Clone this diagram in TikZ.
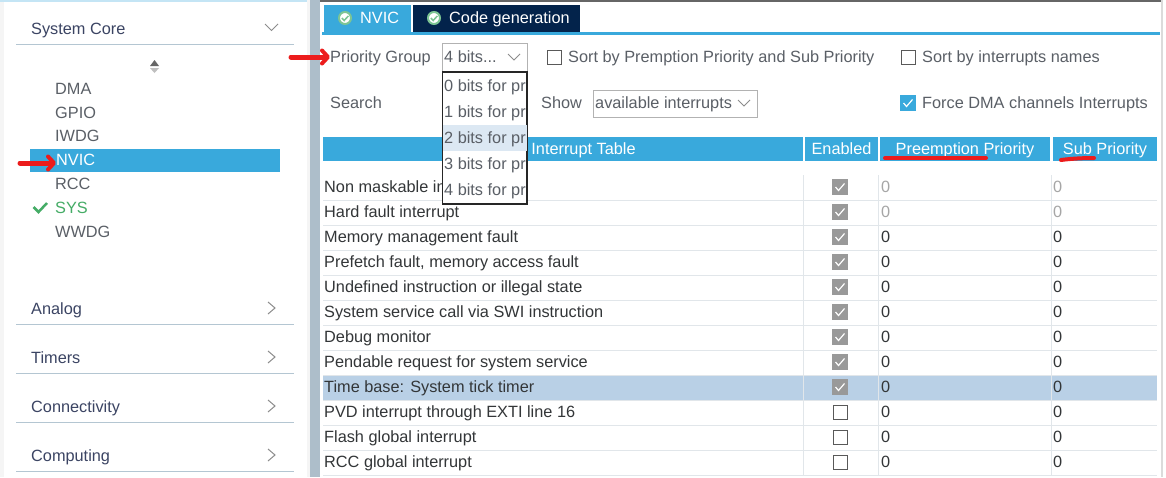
\documentclass[tikz,border=0pt]{standalone}
\usepackage{fontspec}
\setmainfont{Liberation Sans}
\usetikzlibrary{arrows.meta}
\definecolor{cubeblue}{HTML}{39A9DC}
\definecolor{cubenavy}{HTML}{03234B}
\definecolor{headtext}{HTML}{3B4463}
\definecolor{itemtext}{HTML}{5A5F66}
\definecolor{rowtext}{HTML}{333638}
\definecolor{sepline}{HTML}{E1E6EA}
\definecolor{sideline}{HTML}{B4C6D2}
\definecolor{barblue}{HTML}{B9D0E6}
\definecolor{okgreen}{HTML}{45AC66}
\definecolor{penred}{HTML}{EC1C1C}
\tikzset{
  txt/.style={anchor=west, inner sep=0pt, font=\fontsize{16.3}{18}\selectfont, text height=12.5pt, text depth=2pt},
  headtxt/.style={txt, text=headtext},
  itemtxt/.style={txt, text=itemtext},
  rowtxt/.style={txt, text=rowtext},
  greytxt/.style={txt, text=black!35},
  celltxt/.style={anchor=center, inner sep=0pt, font=\fontsize{16.3}{18}\selectfont, text height=12.5pt, text depth=2pt, text=white, fill=cubeblue, minimum height=24pt},
  chevron/.style={draw=black!45, line width=1pt, fill=none},
  emptybox/.style={draw=black!65, fill=white, line width=1pt, minimum size=14pt, inner sep=0pt},
  tickbox/.style={fill=#1, minimum size=15.5pt, inner sep=0pt, path picture={
    \draw[white, line width=1.2pt] ([shift={(-4.5,0)}]path picture bounding box.center) -- ++(3,3.5) -- ++(6,-7);}},
  tabicon/.style={circle, fill=white, draw=#1, line width=2pt, minimum size=12pt, inner sep=0pt, path picture={
    \draw[#1, line width=1.5pt] ([shift={(-3.2,0)}]path picture bounding box.center) -- ++(2.4,2.5) -- ++(4.2,-4.6);}},
  redarrow/.style={draw=penred, line width=5pt, line cap=round, -{Straight Barb[length=6pt,width=13pt,line width=4pt,round]}},
  redline/.style={draw=penred, line width=4pt, line cap=round},
}
\begin{document}
\begin{tikzpicture}[x=1pt,y=-1pt]
\useasboundingbox (0,0) rectangle (1166,477);
\fill[white] (0,0) rectangle (1166,477);
% panels
\fill[black!4] (0,0) rectangle (4,477);
\fill[black!4] (307,0) rectangle (310,477);
\fill[cubeblue!30] (0,0) rectangle (307,1.5);
\fill[black!4!sideline] (310,0) rectangle (320,477);
\fill[black!60] (320,0) rectangle (1161,1.5);
\fill[black!14] (1160.5,0) rectangle (1163,477);
% left list
\node[headtxt] (core) at (31,29) {System Core};
\node[headtxt] (analog) at (31,309) {Analog};
\node[headtxt] (timers) at (31,358) {Timers};
\node[headtxt] (connect) at (31,407) {Connectivity};
\node[headtxt] (compute) at (31,456) {Computing};
\draw[sideline] (16,44) -- (294,44);
\draw[sideline] (16,324) -- (294,324);
\draw[sideline] (16,373) -- (294,373);
\draw[sideline] (16,422) -- (294,422);
\draw[sideline] (16,471) -- (294,471);
\draw[chevron] (265,24) -- (271.5,30.5) -- (278,24);
\draw[chevron] (268,302) -- (275,308) -- (268,314);
\draw[chevron] (268,351) -- (275,357) -- (268,363);
\draw[chevron] (268,400) -- (275,406) -- (268,412);
\draw[chevron] (268,449) -- (275,455) -- (268,461);
\fill[black!60] (150,66) -- (154.5,60) -- (159,66) -- cycle;
\fill[black!25] (150,68) -- (154.5,73) -- (159,68) -- cycle;
\fill[cubeblue] (30,149) rectangle (280,172);
\node[itemtxt] (dma) at (55,89) {DMA};
\node[itemtxt] (gpio) at (55,113) {GPIO};
\node[itemtxt] (iwdg) at (55,136) {IWDG};
\node[txt, text=white] (nvic) at (56,160) {NVIC};
\node[itemtxt] (rcc) at (55,184) {RCC};
\node[txt, text=okgreen] (sys) at (55,208) {SYS};
\node[itemtxt] (wwdg) at (55,232) {WWDG};
\draw[okgreen, line width=2.5pt] (33.5,207) -- (38.5,212) -- (47,203);
% tabs
\fill[cubeblue] (322,31.5) rectangle (1160,35);
\fill[cubeblue] (324,5) rectangle (411,32);
\fill[cubenavy] (413,5) rectangle (580,32);
\node[tabicon=okgreen!70!white] (nvicicon) at (345,18) {};
\node[txt, text=white] (nvictab) at (360,18) {NVIC};
\node[tabicon=okgreen!70!white] (codeicon) at (434,18) {};
\node[txt, text=white] (codetab) at (449,18) {Code generation};
% controls
\node[itemtxt] (group) at (330,57) {Priority Group};
\node[itemtxt] (search) at (330,103) {Search};
\node[itemtxt] (show) at (541,103) {Show};
\draw[black!30, line width=1pt] (442,43.5) rectangle (527,71);
\node[itemtxt] (bits) at (444,57) {4 bits...};
\draw[chevron] (508,54) -- (514,60) -- (520,54);
\draw[black!30, line width=1pt] (593,90) rectangle (757,117);
\node[itemtxt] (avail) at (595,103) {available interrupts};
\draw[chevron] (738,100) -- (744,106) -- (750,100);
\node[emptybox] (sortbox) at (554,57) {};
\node[itemtxt] (sortprio) at (568,57) {Sort by Premption Priority and Sub Priority};
\node[emptybox] (namebox) at (908,57) {};
\node[itemtxt] (sortname) at (922,57) {Sort by interrupts names};
\node[tickbox=cubeblue] (forcebox) at (908,103) {};
\node[itemtxt] (force) at (922,103) {Force DMA channels Interrupts};
% table head
\node[celltxt, minimum width=480pt] (headint) at (563,149) {\hspace{41pt}Interrupt Table};
\node[celltxt, minimum width=73pt] (headen) at (841.5,149) {Enabled};
\node[celltxt, minimum width=170pt] (headpre) at (965,149) {Preemption Priority};
\node[celltxt, minimum width=104pt] (headsub) at (1105,149) {Sub Priority};
% table rows
\fill[barblue] (323,375) rectangle (1157,399.5);
\draw[sepline] (323,200) -- (1157,200);
\draw[sepline] (323,225) -- (1157,225);
\draw[sepline] (323,250) -- (1157,250);
\draw[sepline] (323,275) -- (1157,275);
\draw[sepline] (323,300) -- (1157,300);
\draw[sepline] (323,325) -- (1157,325);
\draw[sepline] (323,350) -- (1157,350);
\draw[sepline] (323,375) -- (1157,375);
\draw[sepline] (323,400) -- (1157,400);
\draw[sepline] (323,425) -- (1157,425);
\draw[sepline] (323,450) -- (1157,450);
\draw[sepline] (323,475) -- (1157,475);
\draw[sepline] (803.5,175) -- (803.5,475);
\draw[sepline] (878.5,175) -- (878.5,475);
\draw[sepline] (1051,175) -- (1051,475);
\node[rowtxt] (rowa) at (324,187) {Non maskable in};
\node[rowtxt] (rowb) at (324,212) {Hard fault interrupt};
\node[rowtxt] (rowc) at (324,237) {Memory management fault};
\node[rowtxt] (rowd) at (324,262) {Prefetch fault, memory access fault};
\node[rowtxt] (rowe) at (324,287) {Undefined instruction or illegal state};
\node[rowtxt] (rowf) at (324,312) {System service call via SWI instruction};
\node[rowtxt] (rowg) at (324,337) {Debug monitor};
\node[rowtxt] (rowh) at (324,362) {Pendable request for system service};
\node[rowtxt] (rowi) at (324,387) {Time base: System tick timer};
\node[rowtxt] (rowj) at (324,412) {PVD interrupt through EXTI line 16};
\node[rowtxt] (rowk) at (324,437) {Flash global interrupt};
\node[rowtxt] (rowl) at (324,462) {RCC global interrupt};
\node[tickbox=black!40] (ticka) at (840,187) {};
\node[tickbox=black!40] (tickb) at (840,212) {};
\node[tickbox=black!40] (tickc) at (840,237) {};
\node[tickbox=black!40] (tickd) at (840,262) {};
\node[tickbox=black!40] (ticke) at (840,287) {};
\node[tickbox=black!40] (tickf) at (840,312) {};
\node[tickbox=black!40] (tickg) at (840,337) {};
\node[tickbox=black!40] (tickh) at (840,362) {};
\node[tickbox=black!40] (ticki) at (840,387) {};
\node[emptybox] (boxj) at (840,412) {};
\node[emptybox] (boxk) at (840,437) {};
\node[emptybox] (boxl) at (840,462) {};
\node[greytxt] (prea) at (881,187) {0};
\node[greytxt] (preb) at (881,212) {0};
\node[rowtxt] (prec) at (881,237) {0};
\node[rowtxt] (pred) at (881,262) {0};
\node[rowtxt] (pree) at (881,287) {0};
\node[rowtxt] (pref) at (881,312) {0};
\node[rowtxt] (preg) at (881,337) {0};
\node[rowtxt] (preh) at (881,362) {0};
\node[rowtxt] (prei) at (881,387) {0};
\node[rowtxt] (prej) at (881,412) {0};
\node[rowtxt] (prek) at (881,437) {0};
\node[rowtxt] (prel) at (881,462) {0};
\node[greytxt] (suba) at (1053,187) {0};
\node[greytxt] (subb) at (1053,212) {0};
\node[rowtxt] (subc) at (1053,237) {0};
\node[rowtxt] (subd) at (1053,262) {0};
\node[rowtxt] (sube) at (1053,287) {0};
\node[rowtxt] (subf) at (1053,312) {0};
\node[rowtxt] (subg) at (1053,337) {0};
\node[rowtxt] (subh) at (1053,362) {0};
\node[rowtxt] (subi) at (1053,387) {0};
\node[rowtxt] (subj) at (1053,412) {0};
\node[rowtxt] (subk) at (1053,437) {0};
\node[rowtxt] (subl) at (1053,462) {0};
% dropdown
\draw[black!85, fill=white, line width=1.2pt] (442.5,72) rectangle (527,204);
\fill[barblue!50] (443,125) rectangle (526.5,151);
\node[itemtxt] (bitsa) at (444,86) {0 bits for pr};
\node[itemtxt] (bitsb) at (444,112) {1 bits for pr};
\node[itemtxt] (bitsc) at (444,138) {2 bits for pr};
\node[itemtxt] (bitsd) at (444,164) {3 bits for pr};
\node[itemtxt] (bitse) at (444,190) {4 bits for pr};
% pen marks
\coordinate (grouptail) at (291,57);
\coordinate (nvictail) at (20,163);
\draw[redarrow] (grouptail) -- (group.west);
\draw[redarrow] (nvictail) -- (nvictail -| nvic.west);
\draw[redline] (885,158) -- (986,158);
\draw[redline] (1061,160) .. controls (1072,158.5) and (1085,158) .. (1094,158);
\end{tikzpicture}
\end{document}
